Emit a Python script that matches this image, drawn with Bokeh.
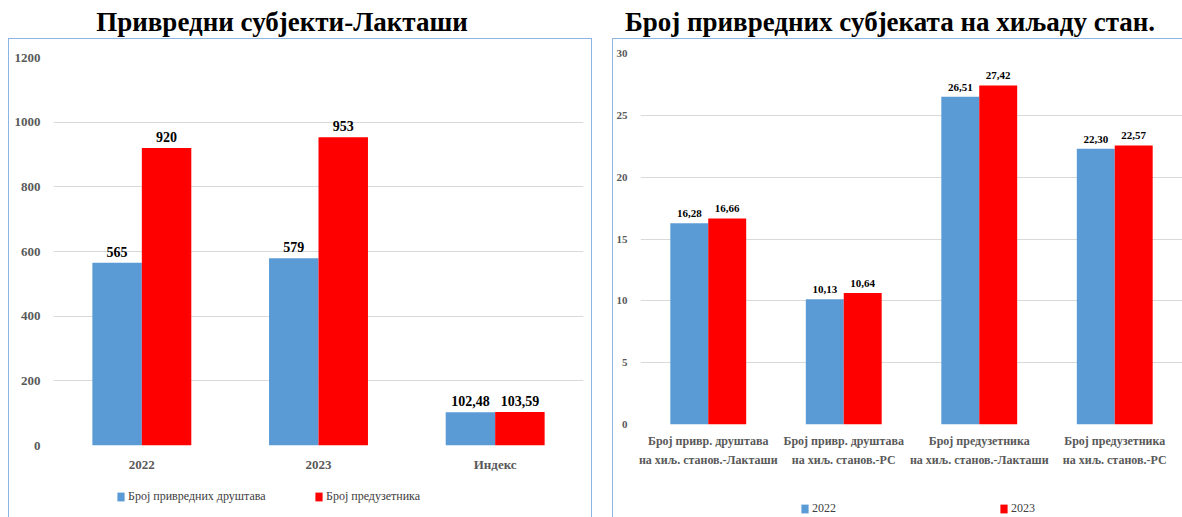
from bokeh.plotting import figure
from bokeh.models import Range1d, FactorRange, FixedTicker, Legend, LegendItem, ColumnDataSource, Div
from bokeh.transform import dodge
from bokeh.layouts import row, column
from bokeh.core.properties import value
from bokeh.embed import file_html
from bokeh.resources import INLINE

FONT = "Liberation Serif"
BLUE = "#5b9bd5"
RED = "#ff0000"
GRID = "#d9d9d9"
TICK = "#595959"
BORDER = "#8db4e2"

# ---- data: left chart ----
left_title = "Привредни субјекти-Лакташи"
left_cats = ["2022", "2023", "Индекс"]
left_drustva = [565, 579, 102.48]
left_preduz = [920, 953, 103.59]
left_series = ["Број привредних друштава", "Број предузетника"]
left_yticks = [0, 200, 400, 600, 800, 1000, 1200]

# ---- data: right chart ----
right_title = "Број привредних субјеката на хиљаду стан."
right_cats = [
    "Број привр. друштава\nна хиљ. станов.-Лакташи",
    "Број привр. друштава\nна хиљ. станов.-РС",
    "Број предузетника\nна хиљ. станов.-Лакташи",
    "Број предузетника\nна хиљ. станов.-РС",
]
right_2022 = [16.28, 10.13, 26.51, 22.30]
right_2023 = [16.66, 10.64, 27.42, 22.57]
right_series = ["2022", "2023"]
right_yticks = [0, 5, 10, 15, 20, 25, 30]


def fmt(v):
    v = float(v)
    return str(int(v)) if v.is_integer() else f"{v:.2f}".replace(".", ",")


def title_div(text, width, size):
    return Div(text=text, width=width, height=30, margin=0,
               styles={"font-family": FONT, "font-size": size, "font-weight": "bold",
                       "text-align": "center", "line-height": "28px", "color": "black",
                       "white-space": "nowrap"})


def make_source(cats, a, b):
    return ColumnDataSource(dict(cat=cats, a=a, b=b,
                                 a_lbl=[fmt(v) for v in a], b_lbl=[fmt(v) for v in b]))


def bar_fig(src, cats, yticks, ymax, width, height, mb,
            lbl_size, tick_size, x_size, standoff_x, line_h):
    p = figure(width=width, height=height, x_range=FactorRange(*cats), y_range=Range1d(0, ymax),
               toolbar_location=None, output_backend="svg",
               min_border_left=mb[0], min_border_right=mb[1], min_border_top=mb[2], min_border_bottom=mb[3])
    p.x_range.range_padding = 0
    p.vbar(x=dodge("cat", -0.14, range=p.x_range), top="a", width=0.28, source=src,
           fill_color=BLUE, line_color=None)
    p.vbar(x=dodge("cat", 0.14, range=p.x_range), top="b", width=0.28, source=src,
           fill_color=RED, line_color=None)
    for off, col in ((-0.14, "a"), (0.14, "b")):
        p.text(x=dodge("cat", off, range=p.x_range), y=col, text=col + "_lbl", source=src,
               y_offset=-6, text_align="center", text_baseline="bottom",
               text_font=value(FONT), text_font_style="bold", text_font_size=lbl_size, text_color="black")
    p.outline_line_color = None
    p.xgrid.grid_line_color = None
    p.ygrid.grid_line_color = GRID
    p.yaxis.ticker = FixedTicker(ticks=yticks)
    for ax in (p.xaxis[0], p.yaxis[0]):
        ax.axis_line_color = None
        ax.major_tick_line_color = None
        ax.minor_tick_line_color = None
        ax.major_label_text_font = FONT
        ax.major_label_text_font_style = "bold"
        ax.major_label_text_color = TICK
    p.yaxis.major_label_text_font_size = tick_size
    p.yaxis.major_label_standoff = 7
    p.xaxis.major_label_text_font_size = x_size
    p.xaxis.major_label_standoff = standoff_x
    p.xaxis.major_label_text_line_height = line_h
    return p


def legend_fig(src, cats, names, width, height, loc, label_w):
    # hidden bar renderers: only their legend swatches are shown
    lf = figure(width=width, height=height, toolbar_location=None, output_backend="svg",
                x_range=FactorRange(*cats), y_range=Range1d(-2, -1),
                min_border=0, x_axis_type=None, y_axis_type=None)
    lf.grid.visible = False
    lf.outline_line_color = None
    g1 = lf.vbar(x="cat", top="a", width=0.28, source=src, fill_color=BLUE, line_color=None)
    g2 = lf.vbar(x="cat", top="b", width=0.28, source=src, fill_color=RED, line_color=None)
    g1.visible = False
    g2.visible = False
    legend = Legend(items=[LegendItem(label=names[0], renderers=[g1]),
                           LegendItem(label=names[1], renderers=[g2])],
                    orientation="horizontal", location=loc, spacing=0,
                    padding=0, margin=0, glyph_width=9, glyph_height=11, label_standoff=3,
                    label_height=14, label_width=label_w, label_text_font=FONT, label_text_font_size="12px",
                    label_text_color="#404040", background_fill_alpha=0, border_line_color=None)
    lf.add_layout(legend)
    return lf


src_l = make_source(left_cats, left_drustva, left_preduz)
tl = title_div(left_title, 548, "27px")
pl = bar_fig(src_l, left_cats, left_yticks, 1200,
             582, 441, (44, 8, 18, 35), "14px", "13px", "13px", 5, 1.2)
ll = legend_fig(src_l, left_cats, left_series, 582, 37, (63, 13), 186)
box_l = column(pl, ll, spacing=0,
               styles={"border-top": f"1px solid {BORDER}", "border-left": f"1px solid {BORDER}",
                       "border-right": f"1px solid {BORDER}"})

src_r = make_source(right_cats, right_2022, right_2023)
tr = title_div(right_title, 556, "27px")
pr = bar_fig(src_r, right_cats, right_yticks, 30,
             569, 431, (21, 0, 14, 46), "11px", "11px", "12px", 3, 1.4)
lr = legend_fig(src_r, right_cats, right_series, 569, 47, (160, 1), 187)
box_r = column(pr, lr, spacing=0,
               styles={"border-top": f"1px solid {BORDER}", "border-left": f"1px solid {BORDER}"})

layout = row(column(tl, box_l, spacing=0), column(tr, box_r, spacing=0), spacing=20,
             margin=(8, 0, 0, 8))
open("out.html", "w").write(file_html(layout, INLINE))
